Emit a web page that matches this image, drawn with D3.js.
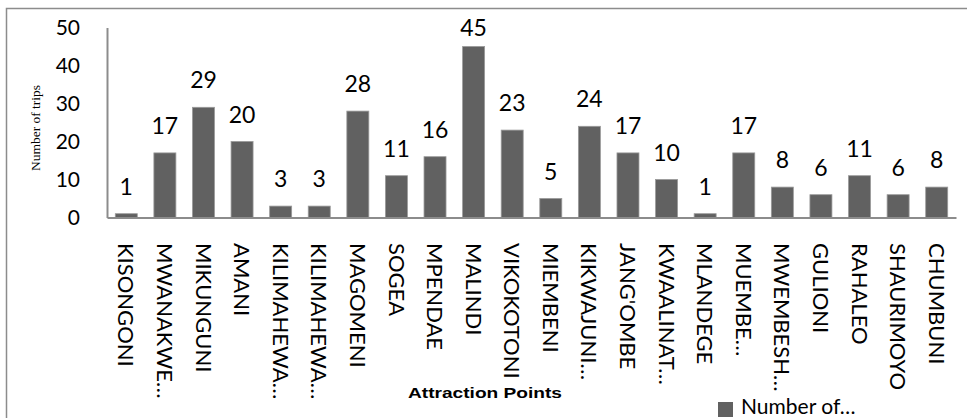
<html>
<head>
<title>Attraction Points</title>
<script src="https://d3js.org/d3.v7.min.js"></script>
</head>
<style>
body { margin: 0; background: #fff; }
text { font-family: Lato, "Open Sans", sans-serif; fill: #000; }
</style>
<body>

<svg id="chart_svg" width="967" height="418"></svg>

<script>
// data
var places = ["KISONGONI", "MWANAKWE…", "MIKUNGUNI", "AMANI", "KILIMAHEWA…", "KILIMAHEWA…",
  "MAGOMENI", "SOGEA", "MPENDAE", "MALINDI", "VIKOKOTONI", "MIEMBENI", "KIKWAJUNI…",
  "JANG'OMBE", "KWAALINAT…", "MLANDEGE", "MUEMBE…", "MWEMBESH…", "GULIONI", "RAHALEO",
  "SHAURIMOYO", "CHUMBUNI"];
var trips = [1, 17, 29, 20, 3, 3, 28, 11, 16, 45, 23, 5, 24, 17, 10, 1, 17, 8, 6, 11, 6, 8];
var yTicks = [0, 10, 20, 30, 40, 50];

var svg = d3.select("#chart_svg");

// outer frame (runs off the right and bottom of the picture)
svg.append("rect")
  .attr("x", 6.5).attr("y", 8.5)
  .attr("width", 980).attr("height", 430)
  .attr("fill", "none")
  .attr("stroke", "#8c8c8c")
  .attr("stroke-width", 1.5);

var x = d3.scaleBand()
  .domain(d3.range(places.length))
  .range([107, 956])
  .paddingInner(0.43)
  .paddingOuter(0.215);

var y = d3.scaleLinear()
  .domain([0, 50])
  .range([217.5, 27.5]);

// bars
svg.selectAll("rect.bar")
  .data(trips)
  .enter().append("rect")
  .attr("class", "bar")
  .attr("x", function (d, i) { return x(i); })
  .attr("y", function (d) { return y(d); })
  .attr("width", x.bandwidth())
  .attr("height", function (d) { return y(0) - y(d); })
  .attr("fill", "#616161")
  .attr("stroke", "#9a9a9a")
  .attr("stroke-width", 0.8);

// value labels, pushed down a bit when they would leave the frame
svg.selectAll("text.val")
  .data(trips)
  .enter().append("text")
  .attr("class", "val")
  .attr("x", function (d, i) { return x(i) + x.bandwidth() / 2; })
  .attr("y", function (d) { return Math.max(y(d) - 19, 36); })
  .attr("text-anchor", "middle")
  .style("font-size", "23px")
  .text(function (d) { return d; });

// y axis
var yAxis = svg.append("g")
  .attr("transform", "translate(107,0)")
  .call(d3.axisLeft(y).tickValues(yTicks).tickSize(0).tickPadding(27));
yAxis.select(".domain").attr("stroke", "#8c8c8c").attr("stroke-width", 2);
yAxis.selectAll("text")
  .style("font-family", "Lato, sans-serif")
  .style("font-size", "21px")
  .attr("fill", "#000");

// x axis, names turned on their side
var xAxis = svg.append("g")
  .attr("transform", "translate(0,217.5)")
  .call(d3.axisBottom(x).tickSize(0).tickFormat(function (i) { return places[i]; }));
xAxis.select(".domain").attr("stroke", "#8c8c8c").attr("stroke-width", 1.8);
xAxis.selectAll("text")
  .attr("transform", "translate(0,25.5) rotate(90)")
  .attr("x", 0).attr("y", 0)
  .attr("dy", "0.36em")
  .attr("text-anchor", "start")
  .style("font-family", "Lato, sans-serif")
  .style("font-size", "22px")
  .attr("fill", "#000");

// axis titles
svg.append("text")
  .attr("transform", "translate(40,128) rotate(-90)")
  .attr("text-anchor", "middle")
  .style("font-family", "'Liberation Serif', serif")
  .style("font-size", "13.5px")
  .text("Number of trips");

svg.append("text")
  .attr("x", 485).attr("y", 398)
  .attr("text-anchor", "middle")
  .attr("textLength", 154)
  .attr("lengthAdjust", "spacingAndGlyphs")
  .style("font-family", "'Liberation Sans', Arial, sans-serif")
  .style("font-weight", "bold")
  .style("font-size", "15px")
  .text("Attraction Points");

// legend
svg.append("rect")
  .attr("x", 718).attr("y", 402)
  .attr("width", 15).attr("height", 15)
  .attr("fill", "#616161");
svg.append("text")
  .attr("x", 741).attr("y", 414)
  .style("font-size", "21px")
  .text("Number of…");
</script>

</body>
</html>
